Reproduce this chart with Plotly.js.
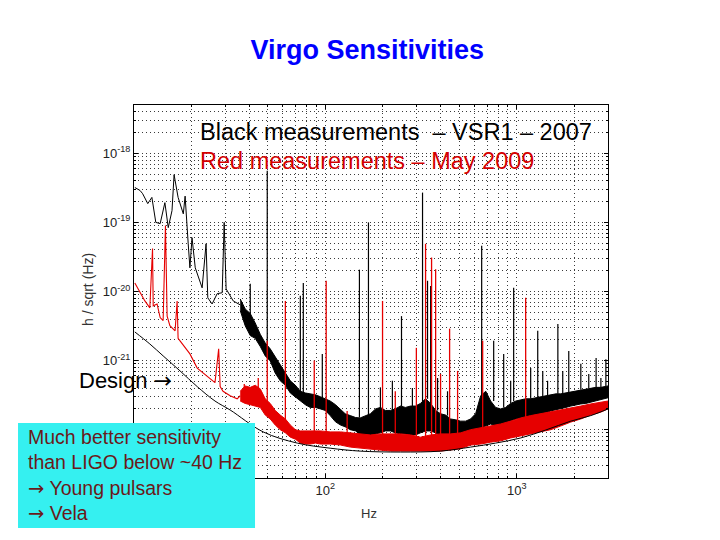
<!DOCTYPE html>
<html>
<head>
<meta charset="utf-8">
<script src="https://cdn.plot.ly/plotly-3.0.1.min.js"></script>
<style>html,body{margin:0;padding:0;background:#fff;}#chart{width:720px;height:540px;}</style>
</head>
<body>
<div id="chart"></div>
<script>
// ---- Black measurements (VSR1 2007): thin low-frequency part ----
var blackLineF = [10.1,10.75,11.1,11.8,12.4,13.0,13.7,14.5,15.1,15.8,16.2,17.0,18.1,18.5,19.2,19.6,20.1,20.9,22.7,23.8,24.3,25.6,27.2,28.9,29.6,30.3,33.0,35.9];
var blackLineH = [3.2e-19,2.9e-19,2.6e-19,1.87e-19,2.3e-19,1.0e-19,9.6e-20,1.93e-19,8.4e-20,1.48e-19,4.9e-19,2.3e-19,1.33e-19,2.4e-19,4.9e-20,2.2e-20,6.0e-20,2.2e-20,1.13e-20,4.9e-20,8.1e-21,6.6e-21,9.3e-21,9.6e-21,1.0e-19,1.09e-20,7.3e-21,6.4e-21];

// ---- Black measurements: noisy band (upper / lower envelope) ----
var blackBandF = [35.9,38.1,40.5,43.0,45.7,48.5,51.5,54.7,58.1,61.8,65.6,69.7,74.0,78.6,83.4,88.7,94.2,100,106,113,120,127,135,144,152,162,172,183,194,206,219,232,247,262,279,296,314,334,355,377,400,425,451,480,509,541,574,610,648,689,731,776,824,875,930,989,1050,1114,1183,1256,1336,1419,1507,1600,1698,1806,1918,2037,2163,2296,2438,2594,2754,2924,3000];
var blackBandHi = [7.8e-21,5.6e-21,4.8e-21,3.5e-21,2.4e-21,1.8e-21,1.48e-21,1.13e-21,8.7e-22,6.6e-22,5.1e-22,4.4e-22,3.6e-22,3.4e-22,3.3e-22,3.2e-22,3.0e-22,2.8e-22,2.6e-22,2.3e-22,2.0e-22,1.7e-22,1.6e-22,1.5e-22,1.48e-22,1.6e-22,1.7e-22,2.0e-22,2.1e-22,1.9e-22,1.9e-22,2.0e-22,2.2e-22,2.1e-22,2.2e-22,2.2e-22,2.4e-22,2.8e-22,2.4e-22,1.9e-22,1.7e-22,1.63e-22,1.43e-22,1.39e-22,1.33e-22,1.33e-22,1.43e-22,1.7e-22,3.1e-22,3.6e-22,2.6e-22,2.1e-22,2.0e-22,2.1e-22,2.4e-22,2.6e-22,2.7e-22,2.8e-22,2.8e-22,2.9e-22,3.0e-22,3.1e-22,3.2e-22,3.3e-22,3.3e-22,3.4e-22,3.5e-22,3.6e-22,3.8e-22,3.9e-22,4.0e-22,4.1e-22,4.1e-22,4.3e-22,4.3e-22];
var blackBandLo = [5.3e-21,3.2e-21,2.3e-21,2.1e-21,1.6e-21,1.17e-21,9.9e-22,6.6e-22,5.1e-22,4.4e-22,3.4e-22,3.0e-22,2.6e-22,2.3e-22,2.1e-22,2.1e-22,2.0e-22,1.9e-22,1.6e-22,1.3e-22,1.17e-22,1.1e-22,1.0e-22,9.6e-23,8.4e-23,7.8e-23,8.1e-23,8.7e-23,9.0e-23,9.6e-23,9.6e-23,9.0e-23,8.7e-23,8.7e-23,8.4e-23,8.4e-23,9.0e-23,9.6e-23,9.6e-23,9.0e-23,8.1e-23,7.8e-23,7.3e-23,7.1e-23,6.9e-23,7.3e-23,7.8e-23,9.0e-23,1.0e-22,1.13e-22,1.21e-22,1.13e-22,1.17e-22,1.25e-22,1.33e-22,1.43e-22,1.48e-22,1.53e-22,1.6e-22,1.63e-22,1.7e-22,1.74e-22,1.87e-22,1.93e-22,2.0e-22,2.1e-22,2.2e-22,2.3e-22,2.36e-22,2.4e-22,2.5e-22,2.6e-22,2.7e-22,2.8e-22,2.9e-22];

// ---- Black measurements: narrow lines (spikes) ----
var blackSpikeF = [40.5,49.7,74.0,76.7,96.4,150.7,168,194,224,250,285,322,342,355,386,435,656,758,855,930,964,1183,1288,1368,1450,1641,1740,1871,2163,2380,2600,2754,2924];
var blackSpikeH = [1.29e-20,5.6e-19,8.7e-21,1.33e-20,1.25e-21,2.07e-20,1.0e-19,4.1e-22,5.1e-22,4.4e-21,4.0e-22,2.7e-19,1.43e-20,1.2e-20,5.6e-22,3.6e-22,4.6e-20,1.93e-21,1.25e-21,5.1e-22,1.13e-20,7.8e-22,2.7e-21,7.1e-22,5.1e-22,3.4e-21,7.1e-22,1.38e-21,9.0e-22,6.4e-22,1.09e-21,5.6e-22,1.05e-21];
var blackSpikeBase = [3e-21,1.6e-21,3e-22,3e-22,2.5e-22,1.5e-22,1.6e-22,2e-22,1.9e-22,2.2e-22,2.2e-22,2.4e-22,2.8e-22,2.4e-22,1.9e-22,1.6e-22,3e-22,2.6e-22,2.1e-22,2.4e-22,2.6e-22,2.8e-22,2.9e-22,3e-22,3.1e-22,3.3e-22,3.3e-22,3.4e-22,3.8e-22,4.0e-22,4.1e-22,4.1e-22,4.3e-22];

// ---- Red measurements (May 2009): thin low-frequency part ----
var redLineF = [10.1,10.75,11.4,12.1,12.5,12.6,13.2,13.7,14.2,14.6,14.9,15.4,16.4,16.8,17.0,17.4,18.5,19.6,21.4,23.0,25.0,26.5,27.7,28.2,29.2,31.8,34.6,35.9];
var redLineH = [1.33e-20,9.6e-21,7.3e-21,5.8e-21,4.2e-20,6.2e-21,6.6e-21,4.2e-21,3.8e-21,9.0e-20,4.4e-21,3.2e-21,2.7e-21,7.3e-21,2.1e-21,1.93e-21,1.53e-21,1.25e-21,7.8e-22,6.6e-22,5.4e-22,4.8e-22,1.48e-21,4.2e-22,3.6e-22,3.1e-22,2.8e-22,3.1e-22];

// ---- Red measurements: noisy band ----
var redBandF = [35.9,38.1,40.5,43.0,45.7,48.5,51.5,54.7,58.1,61.8,65.6,69.7,74.0,78.6,83.4,88.7,94.2,106,120,135,152,172,194,219,247,279,314,355,400,451,509,574,648,731,824,930,1050,1183,1336,1507,1698,1918,2163,2438,2754,3000];
var redBandHi = [3.6e-22,4.3e-22,4.1e-22,4.4e-22,3.9e-22,2.8e-22,2.4e-22,1.9e-22,1.63e-22,1.43e-22,1.17e-22,1.0e-22,9.6e-23,9.6e-23,9.6e-23,9.6e-23,9.6e-23,9.3e-23,9.3e-23,9.0e-23,8.7e-23,8.4e-23,8.7e-23,8.7e-23,8.7e-23,8.4e-23,7.8e-23,8.4e-23,8.7e-23,8.7e-23,9.0e-23,1.0e-22,1.06e-22,1.13e-22,1.21e-22,1.33e-22,1.48e-22,1.6e-22,1.7e-22,1.8e-22,1.93e-22,2.06e-22,2.2e-22,2.36e-22,2.5e-22,2.6e-22];
var redBandLo = [2.6e-22,2.4e-22,2.3e-22,2.2e-22,2.1e-22,1.63e-22,1.43e-22,1.17e-22,1.0e-22,9.0e-23,7.8e-23,7.3e-23,6.4e-23,6.2e-23,6.2e-23,6.4e-23,6.2e-23,6.2e-23,6.0e-23,5.6e-23,5.4e-23,5.3e-23,5.1e-23,4.9e-23,4.9e-23,4.9e-23,4.9e-23,4.9e-23,4.9e-23,5.1e-23,5.3e-23,6.0e-23,6.2e-23,6.6e-23,6.9e-23,7.6e-23,8.1e-23,8.7e-23,9.3e-23,1.0e-22,1.13e-22,1.29e-22,1.43e-22,1.63e-22,1.8e-22,2.0e-22];

// ---- Red measurements: narrow lines ----
var redSpikeF = [37.7,44.6,49.7,61.8,87.5,101,130,199,232,299,334,359,377,400,446,491,664,1114];
var redSpikeH = [4.6e-22,5.6e-22,1.93e-21,7.3e-21,1.0e-21,1.43e-20,1.87e-22,7.3e-21,3.6e-22,1.53e-21,4.9e-20,3.1e-20,2.1e-20,6.4e-22,2.9e-21,7.1e-22,1.93e-21,8.1e-21];
var redSpikeBase = [3e-22,3e-22,1.6e-22,1.2e-22,8e-23,8e-23,8e-23,7e-23,7e-23,7e-23,7e-23,7e-23,7e-23,7e-23,7e-23,7e-23,8e-23,1.3e-22];

// ---- Design sensitivity ----
var designF = [10.1,12.1,14.2,17.4,21.4,26.5,31.8,47.3,71.3,106,152,247,400,574,776,1050,1419,1918,2438,3000];
var designH = [2.6e-21,1.74e-21,1.17e-21,7.1e-22,4.2e-22,2.6e-22,1.93e-22,9.3e-23,6.4e-23,5.4e-23,4.9e-23,4.75e-23,4.9e-23,5.6e-23,6.4e-23,7.6e-23,9.9e-23,1.33e-22,1.6e-22,2.0e-22];

// ---- Axis tick labels ----
var xDecades = [100,1000];
var xDecadeLabels = ['10<sup>2</sup>','10<sup>3</sup>'];
var yDecades = [1e-22,1e-21,1e-20,1e-19,1e-18];
var yDecadeLabels = ['10<sup>-22</sup>','10<sup>-21</sup>','10<sup>-20</sup>','10<sup>-19</sup>','10<sup>-18</sup>'];

var BLACK = '#000000', RED = '#e60000';

function spikes(f, h, base) {
  var x = [], y = [];
  for (var i = 0; i < f.length; i++) { x.push(f[i], f[i], null); y.push(base[i], h[i], null); }
  return {x: x, y: y};
}

// minor grid positions (2..9 within each decade)
var xMinor = [];
[10,100,1000].forEach(function(d){ for (var k=2;k<=9;k++){ if (k*d<=3000) xMinor.push(k*d); } });
var yMinor = [];
[1e-23,1e-22,1e-21,1e-20,1e-19,1e-18].forEach(function(d){ for (var k=2;k<=9;k++){ var v=k*d; if (v>=1.99e-23 && v<=5.01e-18) yMinor.push(v); } });

var bs = spikes(blackSpikeF, blackSpikeH, blackSpikeBase);
var rs = spikes(redSpikeF, redSpikeH, redSpikeBase);

var traces = [
  {x: blackBandF, y: blackBandLo, mode:'lines', line:{color:BLACK, width:1}, hoverinfo:'skip'},
  {x: blackBandF, y: blackBandHi, mode:'lines', line:{color:BLACK, width:1}, fill:'tonexty', fillcolor:BLACK, hoverinfo:'skip'},
  {x: blackLineF, y: blackLineH, mode:'lines', line:{color:BLACK, width:1}},
  {x: bs.x, y: bs.y, mode:'lines', line:{color:BLACK, width:1.2}, connectgaps:false},
  {x: redBandF, y: redBandLo, mode:'lines', line:{color:RED, width:1}, hoverinfo:'skip'},
  {x: redBandF, y: redBandHi, mode:'lines', line:{color:RED, width:1}, fill:'tonexty', fillcolor:RED, hoverinfo:'skip'},
  {x: redLineF, y: redLineH, mode:'lines', line:{color:RED, width:1.1}},
  {x: rs.x, y: rs.y, mode:'lines', line:{color:RED, width:1.3}, connectgaps:false},
  {x: designF, y: designH, mode:'lines', line:{color:BLACK, width:1, shape:'spline'}}
];

var FONT = 'Liberation Sans, Arial, Helvetica, sans-serif';
var ARROW = '<span style="font-family:DejaVu Sans">\u2192</span>';
var gridStyle = {showgrid:true, gridcolor:'#3a3a3a', griddash:'1px,3px', gridwidth:1};
var axisCommon = Object.assign({
  showline:true, mirror:'ticks', linecolor:'#000', linewidth:1,
  ticks:'inside', ticklen:4, tickcolor:'#000', tickmode:'array',
  zeroline:false, tickfont:{family:FONT, size:13, color:'#222'}
}, gridStyle);

var layout = {
  width:720, height:540,
  margin:{l:134, r:112, t:105, b:62},
  paper_bgcolor:'#fff', plot_bgcolor:'#fff',
  showlegend:false,
  title:{text:'<b>Virgo Sensitivities</b>', font:{family:FONT, size:27, color:'#0000ff'}, x:0.51, xanchor:'center', y:0.909, yanchor:'middle'},
  xaxis: Object.assign({}, axisCommon, {type:'log', range:[1, Math.log10(3000)], tickvals:xDecades, ticktext:xDecadeLabels,
    minor: Object.assign({tickmode:'array', tickvals:xMinor, ticks:'inside', ticklen:2, tickcolor:'#000'}, gridStyle)}),
  yaxis: Object.assign({}, axisCommon, {type:'log', range:[Math.log10(2e-23), Math.log10(5e-18)], tickvals:yDecades, ticktext:yDecadeLabels,
    minor: Object.assign({tickmode:'array', tickvals:yMinor, ticks:'inside', ticklen:2, tickcolor:'#000'}, gridStyle)}),
  shapes:[
    {type:'rect', xref:'paper', yref:'paper', x0:-0.2447, x1:0.2553, y0:-0.134, y1:0.1475, fillcolor:'#35f0f0', line:{width:0}, layer:'above'}
  ],
  annotations:[
    {text:'Black measurements\u00a0 \u2013 VSR1 \u2013 2007', xref:'paper', yref:'paper', x:0.135, y:0.9276, xanchor:'left', yanchor:'middle', showarrow:false, font:{family:FONT, size:23.5, color:'#000'}},
    {text:'Red measurements \u2013 May 2009', xref:'paper', yref:'paper', x:0.135, y:0.85, xanchor:'left', yanchor:'middle', showarrow:false, font:{family:FONT, size:23.5, color:'#d40000'}},
    {text:'Design ' + ARROW, xref:'paper', yref:'paper', x:-0.12, y:0.2627, xanchor:'left', yanchor:'middle', showarrow:false, font:{family:FONT, size:22, color:'#000'}},
    {text:'h / sqrt (Hz)', xref:'paper', yref:'paper', x:-0.097, y:0.504, xanchor:'center', yanchor:'middle', textangle:-90, showarrow:false, font:{family:FONT, size:14, color:'#333'}},
    {text:'Hz', xref:'paper', yref:'paper', x:0.496, y:-0.0965, xanchor:'center', yanchor:'middle', showarrow:false, font:{family:FONT, size:13, color:'#333'}},
    {text:'Much better sensitivity<br>than LIGO below ~40 Hz<br>' + ARROW + ' Young pulsars<br>' + ARROW + ' Vela', xref:'paper', yref:'paper', x:-0.228, y:0.006, xanchor:'left', yanchor:'middle', align:'left', showarrow:false, font:{family:FONT, size:19.5, color:'#6a1a1a'}}
  ]
};

Plotly.newPlot('chart', traces, layout, {staticPlot:true, displayModeBar:false});
</script>
</body>
</html>
